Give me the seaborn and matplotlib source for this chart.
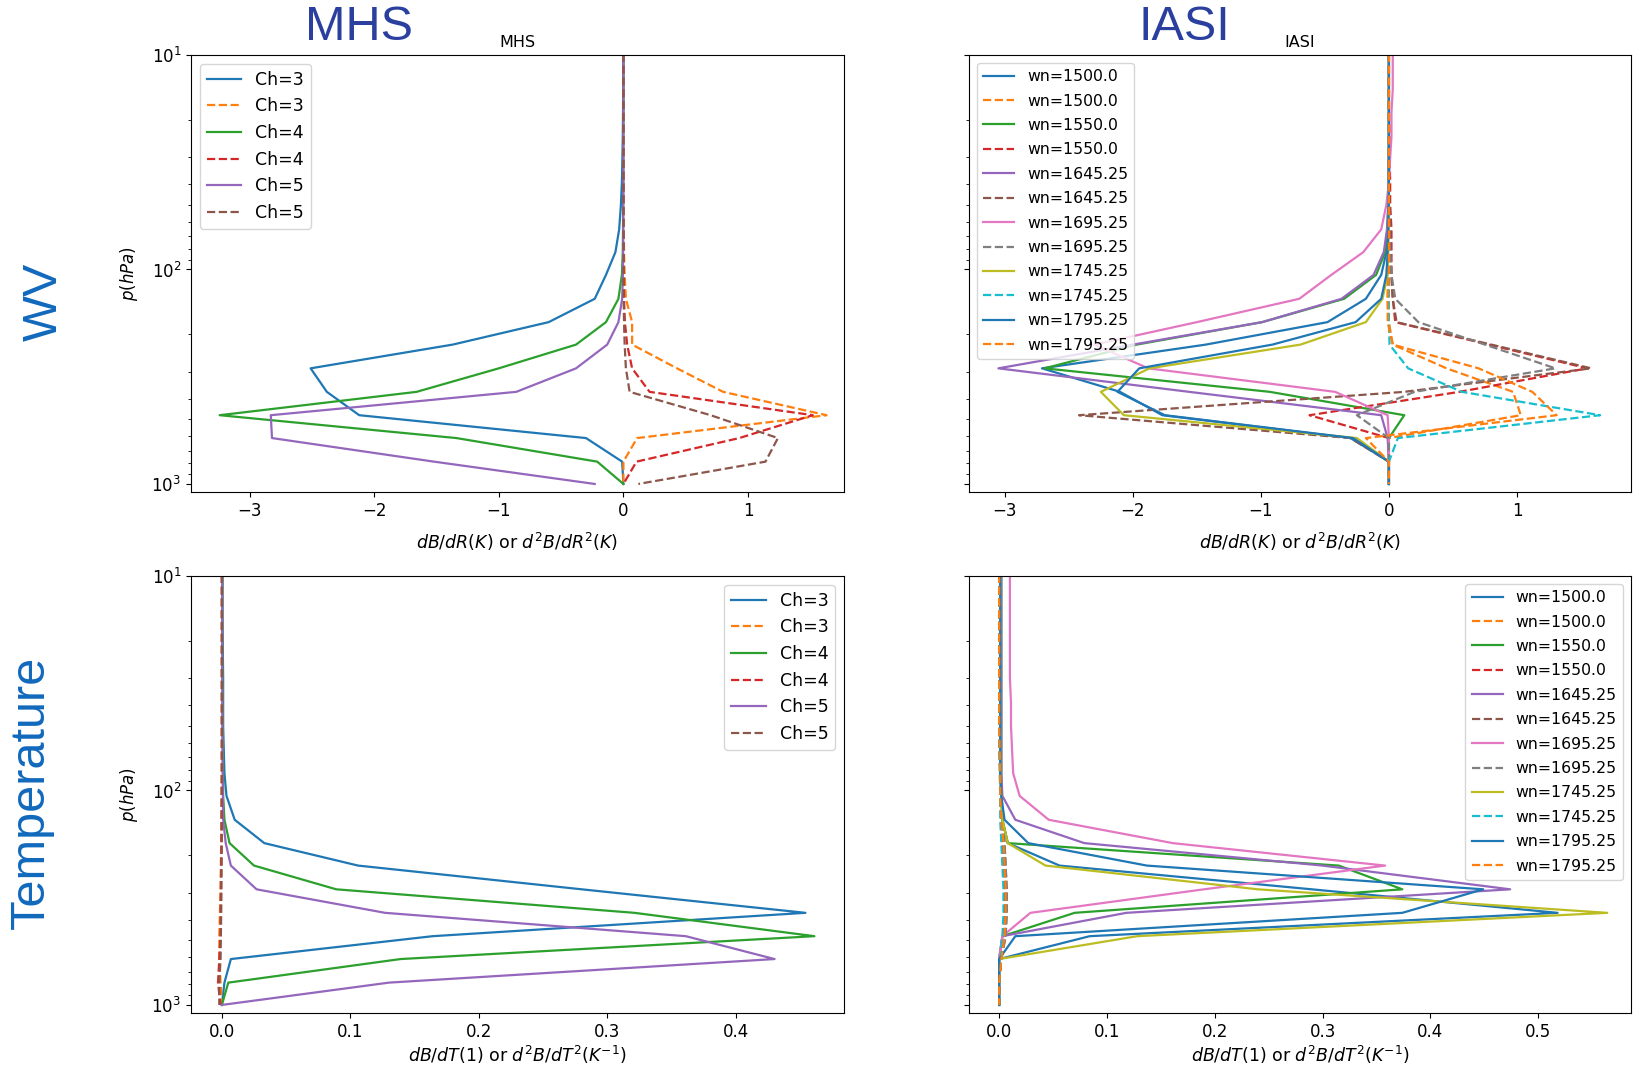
import matplotlib
matplotlib.use('Agg')
import matplotlib.pyplot as plt
import seaborn as sns

# pressure levels of the profile (hPa)
p_lev = [1000, 787, 611, 478, 372, 289, 224, 176, 137, 106, 83, 65, 50, 39, 30, 24, 18.5, 14.5, 11.2, 8.7]

mhs_labels = ['Ch=3', 'Ch=3', 'Ch=4', 'Ch=4', 'Ch=5', 'Ch=5']
iasi_labels = ['wn=1500.0', 'wn=1500.0', 'wn=1550.0', 'wn=1550.0', 'wn=1645.25', 'wn=1645.25',
               'wn=1695.25', 'wn=1695.25', 'wn=1745.25', 'wn=1745.25', 'wn=1795.25', 'wn=1795.25']

# MHS, water vapour: dB/dR (solid) and d2B/dR2 (dashed)
mhs_ch3_R = [0.0, -0.01, -0.30, -2.12, -2.38, -2.51, -1.37, -0.60, -0.23, -0.14, -0.064, -0.034, -0.02, -0.012, -0.008, -0.005, -0.003, -0.002, -0.001, -0.001]
mhs_ch3_R2 = [0.0, 0.0, 0.11, 1.63, 0.80, 0.43, 0.07, 0.07, 0.02, 0.01, 0.005, 0.003, 0.002, 0.001, 0.001, 0.0, 0.0, 0.0, 0.0, 0.0]
mhs_ch4_R = [0.0, -0.21, -1.34, -3.24, -1.66, -1.0, -0.38, -0.14, -0.04, -0.012, -0.005, -0.003, -0.002, -0.001, -0.001, 0.0, 0.0, 0.0, 0.0, 0.0]
mhs_ch4_R2 = [0.0, 0.105, 0.93, 1.52, 0.21, 0.07, 0.03, 0.012, 0.005, 0.002, 0.001, 0.001, 0.0, 0.0, 0.0, 0.0, 0.0, 0.0, 0.0, 0.0]
mhs_ch5_R = [-0.23, -1.52, -2.82, -2.83, -0.86, -0.38, -0.13, -0.04, -0.01, -0.004, -0.002, -0.001, -0.001, 0.0, 0.0, 0.0, 0.0, 0.0, 0.0, 0.0]
mhs_ch5_R2 = [0.12, 1.14, 1.24, 0.70, 0.05, 0.02, 0.01, 0.005, 0.002, 0.001, 0.001, 0.0, 0.0, 0.0, 0.0, 0.0, 0.0, 0.0, 0.0, 0.0]

# MHS, temperature: dB/dT (solid) and d2B/dT2 (dashed)
mhs_ch3_T = [0.0, 0.002, 0.007, 0.164, 0.454, 0.28, 0.106, 0.033, 0.01, 0.0036, 0.002, 0.0015, 0.001, 0.001, 0.001, 0.0008, 0.0006, 0.0005, 0.0005, 0.0005]
mhs_ch3_T2 = [0.0, -0.001, -0.002, -0.002, -0.0015, -0.001, -0.0008, -0.0005, -0.0003, -0.0002, -0.0001, 0.0, 0.0, 0.0, 0.0, 0.0, 0.0, 0.0, 0.0, 0.0]
mhs_ch4_T = [0.0, 0.005, 0.139, 0.461, 0.321, 0.089, 0.025, 0.006, 0.002, 0.001, 0.001, 0.0008, 0.0006, 0.0005, 0.0004, 0.0004, 0.0003, 0.0003, 0.0003, 0.0003]
mhs_ch4_T2 = [-0.001, -0.003, -0.002, -0.001, -0.001, -0.0008, -0.0005, -0.0003, -0.0002, -0.0001, 0.0, 0.0, 0.0, 0.0, 0.0, 0.0, 0.0, 0.0, 0.0, 0.0]
mhs_ch5_T = [0.0, 0.13, 0.43, 0.361, 0.127, 0.027, 0.007, 0.003, 0.001, 0.0008, 0.0006, 0.0005, 0.0004, 0.0004, 0.0003, 0.0003, 0.0003, 0.0003, 0.0003, 0.0003]
mhs_ch5_T2 = [-0.002, -0.002, -0.001, -0.0008, -0.0005, -0.0003, -0.0002, -0.0001, 0.0, 0.0, 0.0, 0.0, 0.0, 0.0, 0.0, 0.0, 0.0, 0.0, 0.0, 0.0]

# IASI, water vapour
iasi_1500_R = [0.0, 0.0, -0.30, -1.77, -2.10, -2.71, -1.43, -0.48, -0.18, -0.06, -0.02, -0.01, -0.005, -0.003, -0.002, -0.001, 0.0, 0.0, 0.0, 0.0]
iasi_1500_R2 = [0.0, 0.0, 0.0, 1.03, 0.97, 0.45, 0.03, 0.0, -0.01, -0.01, 0.0, 0.0, 0.0, 0.0, 0.0, 0.0, 0.0, 0.0, 0.0, 0.0]
iasi_1550_R = [0.0, 0.0, 0.0, 0.12, -0.93, -2.69, -1.97, -0.99, -0.35, -0.10, -0.03, -0.01, -0.005, -0.002, 0.0, 0.0, 0.0, 0.0, 0.0, 0.0]
iasi_1550_R2 = [0.0, 0.0, 0.0, -0.62, 0.55, 1.55, 0.78, 0.05, 0.03, 0.02, 0.02, 0.02, 0.01, 0.01, 0.005, 0.005, 0.0, 0.0, 0.0, 0.0]
iasi_1645_R = [0.0, 0.0, -0.01, -0.06, -1.56, -3.05, -2.0, -0.99, -0.37, -0.12, -0.04, -0.015, -0.005, -0.002, 0.0, 0.0, 0.0, 0.0, 0.0, 0.0]
iasi_1645_R2 = [0.0, 0.0, -0.30, -2.42, 0.12, 1.58, 0.80, 0.06, 0.03, 0.02, 0.01, 0.01, 0.005, 0.0, 0.0, 0.0, 0.0, 0.0, 0.0, 0.0]
iasi_1695_R = [0.0, 0.0, 0.0, -0.01, -0.42, -1.88, -2.30, -1.50, -0.70, -0.45, -0.20, -0.06, -0.02, 0.0, 0.01, 0.02, 0.02, 0.03, 0.03, 0.03]
iasi_1695_R2 = [0.0, 0.0, 0.0, -0.25, 0.20, 1.30, 0.75, 0.23, 0.05, 0.02, 0.01, 0.005, 0.0, 0.0, 0.0, 0.0, 0.0, 0.0, 0.0, 0.0]
iasi_1745_R = [0.0, 0.0, -0.25, -2.07, -2.25, -1.87, -0.69, -0.18, -0.05, -0.01, -0.005, -0.002, 0.0, 0.0, 0.0, 0.0, 0.0, 0.0, 0.0, 0.0]
iasi_1745_R2 = [0.0, 0.0, 0.07, 1.65, 0.57, 0.15, 0.005, 0.0, 0.0, 0.0, 0.0, 0.0, 0.0, 0.0, 0.0, 0.0, 0.0, 0.0, 0.0, 0.0]
iasi_1795_R = [0.0, 0.0, -0.28, -1.75, -2.12, -1.95, -0.91, -0.26, -0.06, -0.02, -0.01, -0.005, -0.002, 0.0, 0.0, 0.0, 0.0, 0.0, 0.0, 0.0]
iasi_1795_R2 = [0.0, 0.0, -0.18, 1.31, 1.12, 0.70, 0.03, -0.01, -0.01, 0.0, 0.0, 0.0, 0.0, 0.0, 0.0, 0.0, 0.0, 0.0, 0.0, 0.0]

# IASI, temperature
iasi_1500_T = [0.0, 0.0, 0.0, 0.084, 0.518, 0.29, 0.056, 0.008, 0.003, 0.002, 0.001, 0.001, 0.001, 0.001, 0.001, 0.001, 0.001, 0.001, 0.001, 0.001]
iasi_1500_T2 = [0.0, 0.0, 0.002, 0.005, 0.006, 0.006, 0.005, 0.004, 0.002, 0.001, 0.001, 0.0005, 0.0005, 0.0, 0.0, 0.0, 0.0, 0.0, 0.0, 0.0]
iasi_1550_T = [0.0, 0.0, 0.0, 0.003, 0.07, 0.374, 0.315, 0.008, 0.003, 0.002, 0.002, 0.002, 0.002, 0.002, 0.002, 0.002, 0.002, 0.002, 0.002, 0.002]
iasi_1550_T2 = [0.0, 0.0, 0.001, 0.004, 0.005, 0.005, 0.004, 0.003, 0.002, 0.001, 0.001, 0.0005, 0.0, 0.0, 0.0, 0.0, 0.0, 0.0, 0.0, 0.0]
iasi_1645_T = [0.0, 0.0, 0.0, 0.003, 0.118, 0.474, 0.30, 0.079, 0.015, 0.003, 0.002, 0.002, 0.002, 0.002, 0.002, 0.002, 0.002, 0.002, 0.002, 0.002]
iasi_1645_T2 = [0.0, 0.0, 0.002, 0.006, 0.007, 0.007, 0.006, 0.005, 0.003, 0.002, 0.001, 0.001, 0.0005, 0.0, 0.0, 0.0, 0.0, 0.0, 0.0, 0.0]
iasi_1695_T = [0.0, 0.0, 0.0, 0.003, 0.029, 0.19, 0.358, 0.161, 0.046, 0.019, 0.013, 0.012, 0.011, 0.011, 0.01, 0.01, 0.01, 0.01, 0.01, 0.01]
iasi_1695_T2 = [0.0, 0.0, 0.002, 0.006, 0.007, 0.007, 0.006, 0.005, 0.003, 0.002, 0.001, 0.001, 0.0005, 0.0, 0.0, 0.0, 0.0, 0.0, 0.0, 0.0]
iasi_1745_T = [0.0, 0.0, 0.0, 0.128, 0.564, 0.24, 0.043, 0.008, 0.003, 0.002, 0.001, 0.001, 0.001, 0.001, 0.001, 0.001, 0.001, 0.001, 0.001, 0.001]
iasi_1745_T2 = [0.0, 0.0, 0.001, 0.003, 0.004, 0.004, 0.003, 0.002, 0.001, 0.001, 0.0005, 0.0, 0.0, 0.0, 0.0, 0.0, 0.0, 0.0, 0.0, 0.0]
iasi_1795_T = [0.0, 0.0, 0.0, 0.015, 0.374, 0.449, 0.137, 0.027, 0.005, 0.002, 0.001, 0.001, 0.001, 0.001, 0.001, 0.001, 0.001, 0.001, 0.001, 0.001]
iasi_1795_T2 = [0.0, 0.0, 0.002, 0.005, 0.006, 0.006, 0.005, 0.004, 0.002, 0.001, 0.001, 0.0005, 0.0, 0.0, 0.0, 0.0, 0.0, 0.0, 0.0, 0.0]

mhs_wv = [mhs_ch3_R, mhs_ch3_R2, mhs_ch4_R, mhs_ch4_R2, mhs_ch5_R, mhs_ch5_R2]
mhs_t = [mhs_ch3_T, mhs_ch3_T2, mhs_ch4_T, mhs_ch4_T2, mhs_ch5_T, mhs_ch5_T2]
iasi_wv = [iasi_1500_R, iasi_1500_R2, iasi_1550_R, iasi_1550_R2, iasi_1645_R, iasi_1645_R2,
           iasi_1695_R, iasi_1695_R2, iasi_1745_R, iasi_1745_R2, iasi_1795_R, iasi_1795_R2]
iasi_t = [iasi_1500_T, iasi_1500_T2, iasi_1550_T, iasi_1550_T2, iasi_1645_T, iasi_1645_T2,
          iasi_1695_T, iasi_1695_T2, iasi_1745_T, iasi_1745_T2, iasi_1795_T, iasi_1795_T2]

colors = ['C0', 'C1', 'C2', 'C3', 'C4', 'C5', 'C6', 'C7', 'C8', 'C9', 'C0', 'C1']

xlab_wv = r'$dB/dR(K)$ or $d^2B/dR^2(K)$'
xlab_t = r'$dB/dT(1)$ or $d^2B/dT^2(K^{-1})$'


def draw_panel(ax, series, labels, title, xlab, xlim, legend_loc, legend_size,
               spacing, xpad, ylab=True):
    for i, (vals, lab) in enumerate(zip(series, labels)):
        ls = '-' if i % 2 == 0 else '--'
        sns.lineplot(x=vals, y=p_lev, orient='y', ax=ax, color=colors[i],
                     linestyle=ls, linewidth=1.6, label=lab)
    ax.set_yscale('log')
    ax.set_ylim(1090, 10)
    ax.set_xlim(*xlim)
    ax.set_title(title, fontsize=11.5)
    ax.set_xlabel(xlab, fontsize=12.5, labelpad=xpad)
    if ylab:
        ax.set_ylabel(r'$p(hPa)$', fontsize=12, labelpad=8)
    else:
        ax.set_ylabel('')
        ax.tick_params(axis='y', which='both', labelleft=False)
    ax.tick_params(labelsize=12)
    ax.legend(loc=legend_loc, fontsize=legend_size, labelspacing=spacing)


fig = plt.figure(figsize=(16.34, 10.70), dpi=100)

ax1 = fig.add_axes([0.1169, 0.5402, 0.3996, 0.4084])
ax2 = fig.add_axes([0.5930, 0.5402, 0.4051, 0.4084])
ax3 = fig.add_axes([0.1169, 0.0533, 0.3996, 0.4084])
ax4 = fig.add_axes([0.5930, 0.0533, 0.4051, 0.4084])

draw_panel(ax1, mhs_wv, mhs_labels, 'MHS', xlab_wv, (-3.47, 1.77), 'upper left', 12.5, 0.5, 8)
draw_panel(ax2, iasi_wv, iasi_labels, 'IASI', xlab_wv, (-3.28, 1.89), 'upper left', 11.3, 0.6, 8, ylab=False)
draw_panel(ax3, mhs_t, mhs_labels, '', xlab_t, (-0.024, 0.484), 'upper right', 12.5, 0.5, 2)
draw_panel(ax4, iasi_t, iasi_labels, '', xlab_t, (-0.028, 0.586), 'upper right', 11.3, 0.6, 2, ylab=False)

# big panel annotations
big_font = ['Liberation Sans Narrow', 'Liberation Sans']
fig.text(359 / 1634, 1 - 27 / 1070, 'MHS', ha='center', va='center', fontsize=35,
         color='#2b3f9e', family=big_font)
fig.text(1184 / 1634, 1 - 27 / 1070, 'IASI', ha='center', va='center', fontsize=35,
         color='#2b3f9e', family=big_font)
fig.text(44 / 1634, 1 - 302 / 1070, 'WV', ha='center', va='center', fontsize=35,
         rotation=90, color='#1169bd', family=big_font)
fig.text(31 / 1634, 1 - 792 / 1070, 'Temperature', ha='center', va='center', fontsize=35,
         rotation=90, color='#1169bd', family=big_font)

fig.savefig('out.png', dpi=100)
